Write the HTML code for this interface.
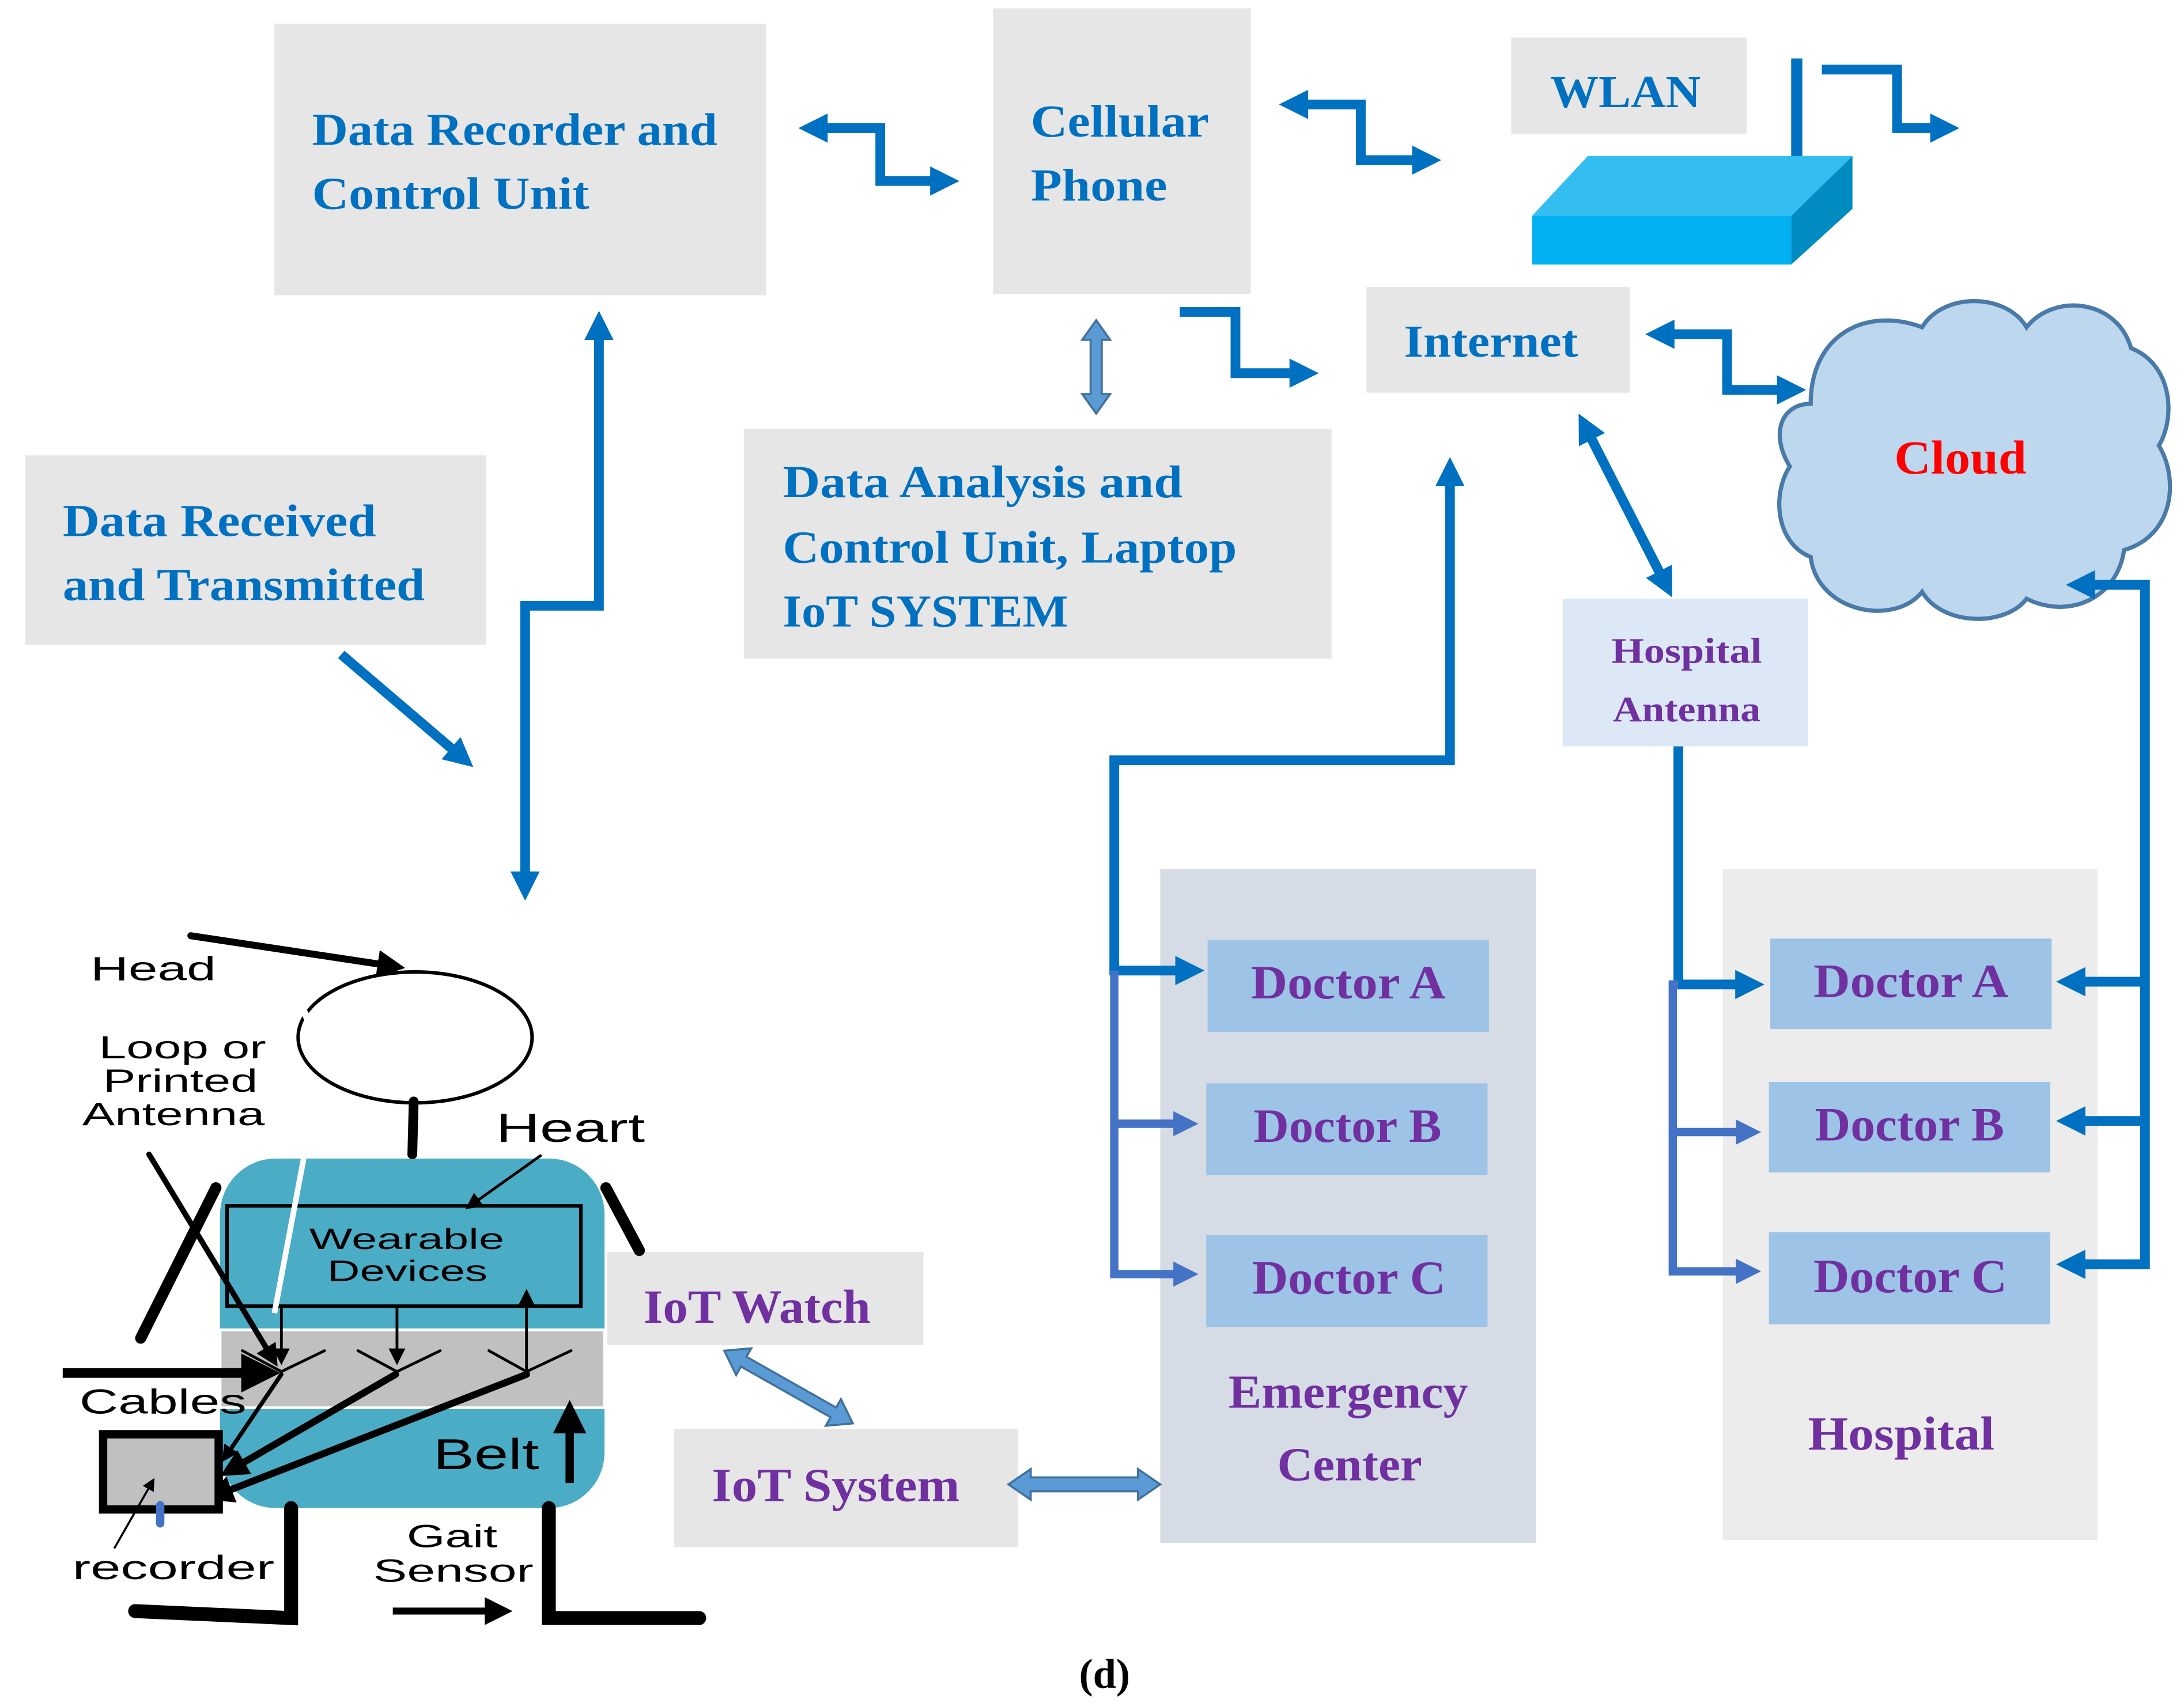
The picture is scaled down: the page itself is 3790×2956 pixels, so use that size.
<!DOCTYPE html>
<html><head><meta charset="utf-8"><style>html,body{margin:0;padding:0;background:#fff}svg{display:block}</style></head>
<body>
<svg xmlns="http://www.w3.org/2000/svg" width="3790" height="2956" viewBox="0 0 1568 1223">
<defs>
<marker id="b" viewBox="0 0 10 10" refX="2" refY="5" markerWidth="3" markerHeight="4" orient="auto-start-reverse" markerUnits="strokeWidth"><path d="M0,0L10,5L0,10z" fill="#0070c0"/></marker>
<marker id="b2" viewBox="0 0 10 10" refX="2" refY="5" markerWidth="3" markerHeight="4" orient="auto-start-reverse" markerUnits="strokeWidth"><path d="M0,0L10,5L0,10z" fill="#4472c4"/></marker>
<marker id="k" viewBox="0 0 10 10" refX="6" refY="5" markerWidth="4" markerHeight="4" orient="auto-start-reverse" markerUnits="strokeWidth"><path d="M0,0L10,5L0,10z" fill="#000"/></marker>
<marker id="ks" viewBox="0 0 10 10" refX="8" refY="5" markerWidth="7" markerHeight="6" orient="auto" markerUnits="strokeWidth"><path d="M0,0L10,5L0,10z" fill="#000"/></marker>
</defs>
<rect width="1568" height="1223" fill="#fff"/>
<g font-family="'Liberation Serif',serif" font-weight="bold" fill="#0070c0" font-size="33">
<rect x="197" y="17" width="353" height="195" fill="#e6e6e6"/>
<text x="224" y="104" textLength="291" lengthAdjust="spacingAndGlyphs">Data Recorder and</text><text x="224" y="150" textLength="199" lengthAdjust="spacingAndGlyphs">Control Unit</text>
<rect x="713" y="6" width="185" height="205" fill="#e6e6e6"/>
<text x="740" y="98" textLength="128" lengthAdjust="spacingAndGlyphs">Cellular</text><text x="740" y="144" textLength="98" lengthAdjust="spacingAndGlyphs">Phone</text>
<rect x="1085" y="27" width="169" height="69" fill="#e6e6e6"/>
<text x="1113" y="77" textLength="108" lengthAdjust="spacingAndGlyphs">WLAN</text>
<rect x="981" y="206" width="189" height="76" fill="#e6e6e6"/>
<text x="1008" y="256" textLength="125" lengthAdjust="spacingAndGlyphs">Internet</text>
<rect x="534" y="308" width="422" height="165" fill="#e6e6e6"/>
<text x="562" y="357" textLength="287" lengthAdjust="spacingAndGlyphs">Data Analysis and</text><text x="562" y="404" textLength="326" lengthAdjust="spacingAndGlyphs">Control Unit, Laptop</text><text x="562" y="450" textLength="205" lengthAdjust="spacingAndGlyphs">IoT SYSTEM</text>
<rect x="18" y="327" width="331" height="136" fill="#e6e6e6"/>
<text x="45" y="385" textLength="225" lengthAdjust="spacingAndGlyphs">Data Received</text><text x="45" y="431" textLength="260" lengthAdjust="spacingAndGlyphs">and Transmitted</text>
</g>
<!-- router -->
<line x1="1290" y1="42" x2="1290" y2="114" stroke="#0070c0" stroke-width="8"/>
<polygon points="1100,155 1140,112 1330,112 1286,155" fill="#33bdf0"/>
<rect x="1100" y="155" width="186" height="35" fill="#00b0f0"/>
<polygon points="1286,155 1330,112 1330,150 1286,190" fill="#008cc0"/>
<!-- cloud -->
<path d="M1300,290 C1300,240 1340,220 1380,235 C1395,210 1440,210 1455,235 C1475,210 1520,215 1530,250 C1560,262 1562,300 1550,320 C1565,345 1560,385 1525,395 C1520,430 1485,445 1455,430 C1440,450 1395,450 1380,425 C1360,450 1305,440 1300,400 C1275,390 1272,355 1285,335 C1270,310 1280,290 1300,290 Z" fill="#bdd7ee" stroke="#4a7aa8" stroke-width="3"/>
<text x="1360" y="340" textLength="95" lengthAdjust="spacingAndGlyphs" font-family="'Liberation Serif',serif" font-weight="bold" font-size="34" fill="#ff0000">Cloud</text>
<!-- hospital antenna -->
<rect x="1122" y="430" width="176" height="106" fill="#dce8f5"/>
<g font-family="'Liberation Serif',serif" font-weight="bold" fill="#7030a0">
<text x="1157" y="476" font-size="26" textLength="108" lengthAdjust="spacingAndGlyphs">Hospital</text>
<text x="1158" y="518" font-size="26" textLength="106" lengthAdjust="spacingAndGlyphs">Antenna</text>
<rect x="833" y="624" width="270" height="484" fill="#d6dce5"/>
<rect x="867" y="675" width="202" height="66" fill="#9dc3e6"/>
<rect x="866" y="778" width="202" height="66" fill="#9dc3e6"/>
<rect x="866" y="887" width="202" height="66" fill="#9dc3e6"/>
<text x="898" y="717" font-size="34" textLength="140" lengthAdjust="spacingAndGlyphs">Doctor A</text>
<text x="900" y="820" font-size="34" textLength="135" lengthAdjust="spacingAndGlyphs">Doctor B</text>
<text x="899" y="929" font-size="34" textLength="139" lengthAdjust="spacingAndGlyphs">Doctor C</text>
<text x="882" y="1011" font-size="34" textLength="172" lengthAdjust="spacingAndGlyphs">Emergency</text>
<text x="917" y="1063" font-size="34" textLength="104" lengthAdjust="spacingAndGlyphs">Center</text>
<rect x="1237" y="624" width="269" height="482" fill="#ececec"/>
<rect x="1271" y="674" width="202" height="65" fill="#9dc3e6"/>
<rect x="1270" y="777" width="202" height="65" fill="#9dc3e6"/>
<rect x="1270" y="885" width="202" height="66" fill="#9dc3e6"/>
<text x="1302" y="716" font-size="34" textLength="140" lengthAdjust="spacingAndGlyphs">Doctor A</text>
<text x="1303" y="819" font-size="34" textLength="136" lengthAdjust="spacingAndGlyphs">Doctor B</text>
<text x="1302" y="928" font-size="34" textLength="139" lengthAdjust="spacingAndGlyphs">Doctor C</text>
<text x="1298" y="1041" font-size="34" textLength="134" lengthAdjust="spacingAndGlyphs">Hospital</text>
<rect x="436" y="899" width="227" height="67" fill="#e6e6e6"/>
<text x="462" y="950" font-size="34" textLength="163" lengthAdjust="spacingAndGlyphs">IoT Watch</text>
<rect x="484" y="1026" width="247" height="85" fill="#e6e6e6"/>
<text x="511" y="1078" font-size="34" textLength="178" lengthAdjust="spacingAndGlyphs">IoT System</text>
</g>
<text x="793" y="1212" font-family="'Liberation Serif',serif" font-weight="bold" font-size="30" text-anchor="middle" fill="#000">(d)</text>
<!-- blue arrows -->
<g fill="none" stroke="#0070c0" stroke-width="7">
<polyline points="590,92 632,92 632,130 672,130" marker-start="url(#b)" marker-end="url(#b)"/>
<polyline points="935,75 977,75 977,115 1018,115" marker-start="url(#b)" marker-end="url(#b)"/>
<polyline points="847,224 887,224 887,268 930,268" marker-end="url(#b)"/>
<polyline points="1308,50 1362,50 1362,92 1390,92" marker-end="url(#b)"/>
<polyline points="1198,240 1240,240 1240,280 1280,280" marker-start="url(#b)" marker-end="url(#b)"/>
<line x1="1141" y1="312" x2="1193" y2="414" marker-start="url(#b)" marker-end="url(#b)"/>
<polyline points="1500,420 1540,420 1540,908 1493,908" marker-start="url(#b)" marker-end="url(#b)"/>
<polyline points="1540,705 1493,705" marker-end="url(#b)"/>
<polyline points="1540,805 1493,805" marker-end="url(#b)"/>
<polyline points="1205,536 1205,707 1250,707" marker-end="url(#b)"/>
<polyline points="1041,345 1041,546 800,546 800,697 848,697" marker-start="url(#b)" marker-end="url(#b)"/>
<polyline points="430,240 430,435 377,435 377,630" marker-start="url(#b)" marker-end="url(#b)"/>
<line x1="245" y1="470" x2="327" y2="540" marker-end="url(#b)"/>
</g>
<g fill="none" stroke="#4472c4" stroke-width="6">
<polyline points="1205,707 1201,707 1201,913 1250,913" marker-end="url(#b2)"/>
<polyline points="1201,813 1250,813" marker-end="url(#b2)"/>
<polyline points="800,697 800,915 846,915" marker-end="url(#b2)"/>
<polyline points="800,807 846,807" marker-end="url(#b2)"/>
</g>
<!-- hollow double arrows -->
<g fill="#5b9bd5" stroke="#41719c" stroke-width="1.5">
<g transform="translate(787,230) rotate(90)"><polygon points="0,0 14,-10 14,-4 53,-4 53,-10 67,0 53,10 53,4 14,4 14,10"/></g>
<g transform="translate(520,970) rotate(29.5)"><polygon points="0,0 16,-11 16,-4 90,-4 90,-11 106,0 90,11 90,4 16,4 16,11"/></g>
<g transform="translate(724,1066)"><polygon points="0,0 16,-11 16,-5 93,-5 93,-11 109,0 93,11 93,5 16,5 16,11"/></g>
</g>
<!-- person -->
<rect x="158" y="832" width="276" height="251" rx="40" fill="#4bacc6"/>
<rect x="158" y="955" width="276" height="56" fill="#c0c0c0" stroke="#fff" stroke-width="2"/>
<rect x="163" y="866" width="254" height="72" fill="none" stroke="#000" stroke-width="2.5"/>
<g font-family="'Liberation Sans',sans-serif" fill="#000">
<text x="222" y="897" font-size="21" textLength="140" lengthAdjust="spacingAndGlyphs">Wearable</text>
<text x="235" y="920" font-size="21" textLength="115" lengthAdjust="spacingAndGlyphs">Devices</text>
<text x="65" y="704" font-size="24" textLength="90" lengthAdjust="spacingAndGlyphs">Head</text>
<text x="71" y="760" font-size="23" textLength="120" lengthAdjust="spacingAndGlyphs">Loop or</text>
<text x="74" y="784" font-size="23" textLength="111" lengthAdjust="spacingAndGlyphs">Printed</text>
<text x="59" y="808" font-size="23" textLength="131" lengthAdjust="spacingAndGlyphs">Antenna</text>
<text x="356" y="820" font-size="29" textLength="107" lengthAdjust="spacingAndGlyphs">Heart</text>
<text x="57" y="1015" font-size="25" textLength="120" lengthAdjust="spacingAndGlyphs">Cables</text>
<text x="52" y="1134" font-size="24" textLength="145" lengthAdjust="spacingAndGlyphs">recorder</text>
<text x="292" y="1111" font-size="23" textLength="65" lengthAdjust="spacingAndGlyphs">Gait</text>
<text x="268" y="1136" font-size="23" textLength="115" lengthAdjust="spacingAndGlyphs">Sensor</text>
<text x="311" y="1055" font-size="31" textLength="76" lengthAdjust="spacingAndGlyphs">Belt</text>
</g>
<ellipse cx="298" cy="745" rx="84" ry="47" fill="none" stroke="#000" stroke-width="2.5"/>
<line x1="215" y1="720" x2="235" y2="760" stroke="#fff" stroke-width="5"/>
<g stroke="#000" fill="none" stroke-linecap="round">
<line x1="137" y1="672" x2="283" y2="694" stroke-width="5" marker-end="url(#k)"/>
<line x1="297" y1="791" x2="296" y2="829" stroke-width="7"/>
<line x1="155" y1="853" x2="101" y2="961" stroke-width="8"/>
<line x1="435" y1="853" x2="459" y2="898" stroke-width="8"/>
<line x1="107" y1="829" x2="196" y2="976" stroke-width="4" marker-end="url(#k)"/>
<line x1="388" y1="830" x2="336" y2="867" stroke-width="2" marker-end="url(#ks)"/>
<line x1="45" y1="986" x2="190" y2="986" stroke-width="7" stroke-linecap="butt" marker-end="url(#k)"/>
<polyline points="174,970 202,985 233,970" stroke-width="2"/>
<polyline points="257,970 285,985 316,970" stroke-width="2"/>
<polyline points="351,970 378,985 410,970" stroke-width="2"/>
<line x1="202" y1="938" x2="202" y2="978" stroke-width="2" marker-end="url(#ks)"/>
<line x1="285" y1="938" x2="285" y2="978" stroke-width="2" marker-end="url(#ks)"/>
<line x1="378" y1="985" x2="378" y2="928" stroke-width="2" marker-end="url(#ks)"/>
<line x1="202" y1="987" x2="162" y2="1046" stroke-width="3" marker-end="url(#k)"/>
<line x1="284" y1="987" x2="165" y2="1056" stroke-width="5" marker-end="url(#k)"/>
<line x1="378" y1="987" x2="155" y2="1074" stroke-width="5" marker-end="url(#k)"/>
<line x1="409" y1="1065" x2="409" y2="1015" stroke-width="6" stroke-linecap="butt" marker-end="url(#k)"/>
<polyline points="209,1083 209,1162 97,1157" stroke-width="10"/>
<polyline points="394,1083 394,1162 502,1162" stroke-width="10"/>
<line x1="282" y1="1157" x2="360" y2="1157" stroke-width="5" stroke-linecap="butt" marker-end="url(#k)"/>
</g>
<line x1="218" y1="832" x2="197" y2="943" stroke="#fff" stroke-width="4"/>
<rect x="74" y="1030" width="83" height="54" fill="#c0c0c0" stroke="#000" stroke-width="6"/>
<line x1="82" y1="1112" x2="110" y2="1063" stroke="#000" stroke-width="1.5" marker-end="url(#ks)"/>
<line x1="115" y1="1081" x2="115" y2="1094" stroke="#4472c4" stroke-width="6" stroke-linecap="round"/>
</svg>
</body></html>
